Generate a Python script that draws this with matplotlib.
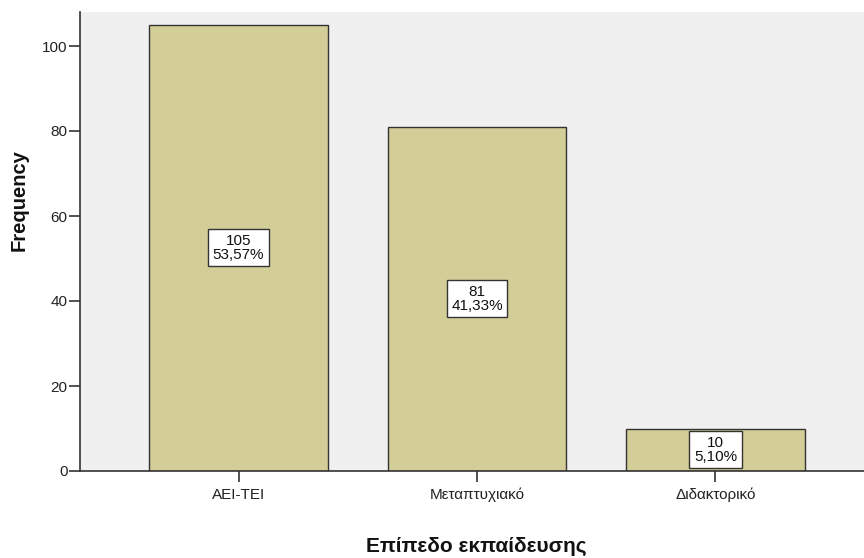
import matplotlib
matplotlib.use("Agg")
import matplotlib.pyplot as plt

plt.rcParams['font.family'] = ['Liberation Sans', 'DejaVu Sans']

categories = ["AEI-TEI", "Μεταπτυχιακό", "Διδακτορικό"]
counts = [105, 81, 10]
percents = ["53,57%", "41,33%", "5,10%"]
yticks = [0, 20, 40, 60, 80, 100]

W, H = 864, 558
fig = plt.figure(figsize=(W / 100, H / 100), dpi=100)
ax = fig.add_axes([80 / W, 87 / H, 784 / W, 459 / H])
ax.set_facecolor("#f0f0f0")

x = list(range(len(categories)))
ax.bar(x, counts, width=0.75, color="#d3ce97", edgecolor="#333333", linewidth=1.0, zorder=2)

for xi, c, p in zip(x, counts, percents):
    ax.text(xi, c / 2, f"{c}\n{p}", ha="center", va="center", fontsize=11,
            linespacing=1.0, zorder=3, color="#111111",
            bbox=dict(boxstyle="square,pad=0.3", facecolor="white", edgecolor="#333333", linewidth=1.0))

ax.set_xlim(-0.665, 2.623)
ax.set_ylim(0, 108)
ax.set_yticks(yticks)
ax.set_xticks(x)
ax.set_xticklabels(categories)

for s in ["top", "right"]:
    ax.spines[s].set_visible(False)
for s in ["left", "bottom"]:
    ax.spines[s].set_color("#333333")
    ax.spines[s].set_linewidth(1.2)
    ax.spines[s].set_zorder(4)

ax.tick_params(axis="y", length=8, width=1.2, color="#333333", labelsize=11, labelcolor="#222222", pad=1)
ax.tick_params(axis="x", length=8, width=1.2, color="#333333", labelsize=11, labelcolor="#222222", pad=4)

fig.text(19 / W, 1 - 200 / H, "Frequency", rotation=90, ha="center", va="center",
         fontsize=14.5, fontweight="bold", color="#111111")
fig.text(476 / W, 1 - 546 / H, "Επίπεδο εκπαίδευσης", ha="center", va="center",
         fontsize=15, fontweight="bold", color="#111111")

fig.savefig("out.png", dpi=100, facecolor="white")
